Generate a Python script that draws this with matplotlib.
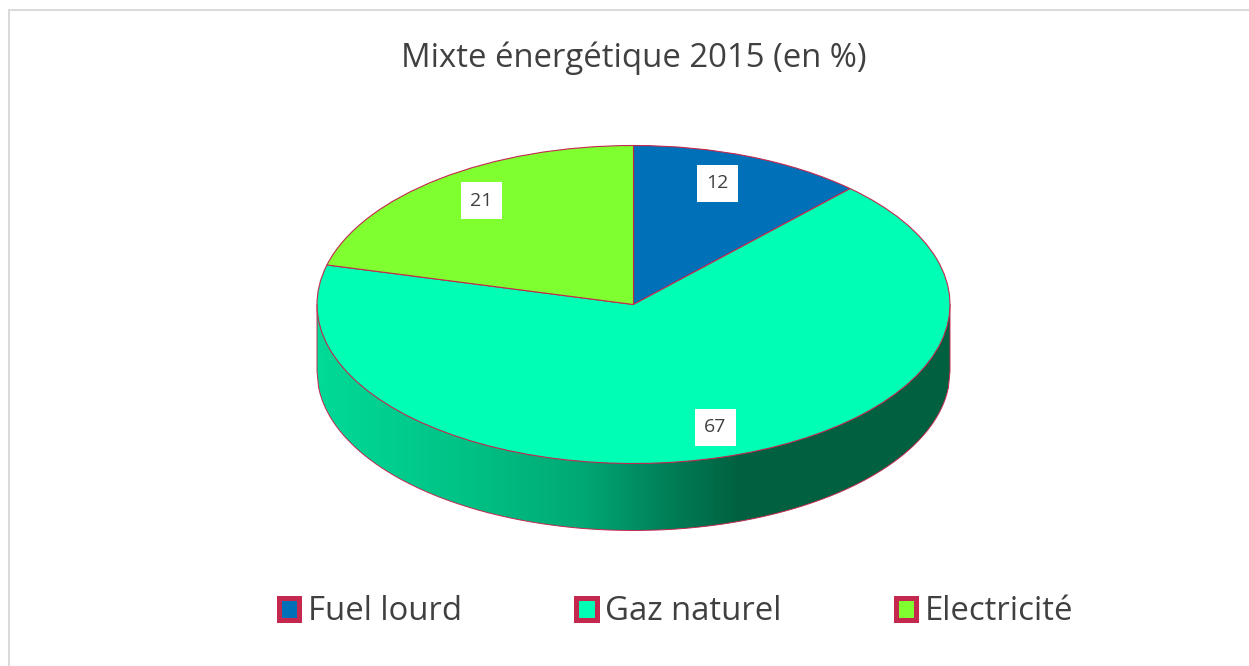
import numpy as np
import matplotlib
matplotlib.use("Agg")
import matplotlib.pyplot as plt
from matplotlib.colors import LinearSegmentedColormap
from matplotlib.patches import Patch, Polygon, Rectangle

categories = ["Fuel lourd", "Gaz naturel", "Electricité"]
shares = [12, 67, 21]
slice_colors = ["#0070B8", "#00FFB4", "#80FF30"]
edge_color = "#C4284F"
text_color = "#404040"

plt.rcParams["font.family"] = ["Open Sans", "DejaVu Sans"]

W, H = 1249, 666
cx, cy = 633.5, 304.5   # pie centre in pixels
rx, ry = 316.5, 159     # ellipse radii in pixels
depth = 67 / ry

fig = plt.figure(figsize=(W / 100, H / 100), dpi=100)
ax = fig.add_axes([0, 0, 1, 1])

# side of the disc, shaded left to right
side_cmap = LinearSegmentedColormap.from_list("side", [
    (0.0, "#00DA98"), (0.25, "#00C084"), (0.42, "#00A874"),
    (0.55, "#008058"), (0.67, "#006040"), (1.0, "#006040")])
xs = np.linspace(-1, 1, 400)
arc = -np.sqrt(1 - xs ** 2) - depth
clip = Polygon(np.vstack([np.column_stack([xs, arc]), [[1, 0], [-1, 0]]]),
               closed=True, transform=ax.transData)
img = ax.imshow(np.linspace(0, 1, 512).reshape(1, -1), cmap=side_cmap, aspect="auto",
                extent=(-1, 1, -1 - depth, 0), zorder=1)
img.set_clip_path(clip)
ax.plot(np.r_[-1, xs, 1], np.r_[0, arc, 0], color=edge_color, lw=0.7, zorder=2)

# top of the disc
wedges, _ = ax.pie(shares, colors=slice_colors, startangle=90, counterclock=False,
                   wedgeprops=dict(edgecolor=edge_color, linewidth=0.8, zorder=3))

ax.set_frame_on(False)
ax.set_xticks([])
ax.set_yticks([])
ax.set_aspect("auto")
ax.set_xlim(-cx / rx, (W - cx) / rx)
ax.set_ylim(-(H - cy) / ry, cy / ry)

# value labels, placed in pixels
label_pos = [(717.5, 183.5), (715.5, 427.5), (481.5, 200.5)]
for val, (px, py) in zip(shares, label_pos):
    ax.text((px - cx) / rx, (cy - py) / ry, str(val), ha="center", va="center",
            fontsize=14, color=text_color, zorder=5,
            bbox=dict(facecolor="white", edgecolor="none", pad=7))

fig.text(634 / W, 1 - 58 / H, "Mixte énergétique 2015 (en %)", ha="center", va="center",
         fontsize=23.7, color=text_color)

handles = [Patch(facecolor=c, edgecolor=edge_color, linewidth=3.6, joinstyle="round")
           for c in slice_colors]
leg = ax.legend(handles, categories, ncol=3, loc="center", frameon=False,
                bbox_to_anchor=(676 / W, 1 - 612 / H), bbox_transform=fig.transFigure,
                fontsize=23.7, labelcolor=text_color, handlelength=0.63, handleheight=0.63,
                handletextpad=0.26, columnspacing=3.46)

# chart frame, only the top and left sides fall inside the picture
fig.add_artist(Rectangle((9 / W, -5 / H), (W + 5) / W, (H - 5) / H, transform=fig.transFigure,
                         fill=False, edgecolor="#D9D9D9", linewidth=1.4))

fig.savefig("out.png", dpi=100)
